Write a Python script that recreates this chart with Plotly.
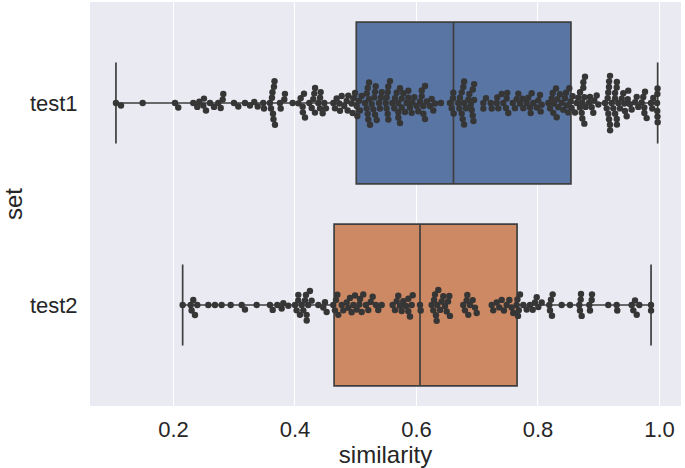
import numpy as np
import plotly.graph_objects as go

categories = ["test1", "test2"]

test1_similarity = [
    0.1053, 0.1136, 0.1493, 0.2025, 0.2079, 0.2326, 0.2392, 0.2425, 0.2491, 0.2502,
    0.2535, 0.2601, 0.2667, 0.2737, 0.2777, 0.2810, 0.2820, 0.2996, 0.3067, 0.3177,
    0.3259, 0.3330, 0.3386, 0.3478, 0.3490, 0.3588, 0.3605, 0.3621, 0.3630, 0.3638,
    0.3646, 0.3654, 0.3663, 0.3671, 0.3753, 0.3765, 0.3824, 0.3835,
    0.3962, 0.4054, 0.4094, 0.4127, 0.4130, 0.4148, 0.4165, 0.4235, 0.4275, 0.4301,
    0.4318, 0.4329, 0.4331, 0.4384, 0.4412, 0.4413, 0.4423, 0.4456, 0.4482, 0.4510,
    0.4631, 0.4658, 0.4686, 0.4729, 0.4741, 0.4769, 0.4811, 0.4851, 0.4867, 0.4877,
    0.4933, 0.4949, 0.4960, 0.4988, 0.5016, 0.5026,
    0.5054, 0.5070, 0.5098, 0.5152, 0.5180, 0.5181, 0.5197, 0.5198, 0.5207, 0.5218,
    0.5219, 0.5235, 0.5263, 0.5289, 0.5306, 0.5317, 0.5318, 0.5329, 0.5345, 0.5383,
    0.5399, 0.5416, 0.5427, 0.5493, 0.5509, 0.5510, 0.5526, 0.5527, 0.5536, 0.5537,
    0.5564, 0.5602, 0.5635, 0.5646, 0.5674, 0.5700, 0.5701, 0.5702, 0.5728, 0.5729,
    0.5756, 0.5757, 0.5783, 0.5811, 0.5839, 0.5865, 0.5866, 0.5893, 0.5921, 0.5931,
    0.5964, 0.6003, 0.6030, 0.6058, 0.6086, 0.6087, 0.6112, 0.6113, 0.6140, 0.6141,
    0.6168, 0.6222, 0.6250, 0.6277, 0.6305, 0.6403, 0.6551, 0.6579, 0.6601, 0.6606,
    0.6612,
    0.6688, 0.6706, 0.6716, 0.6744, 0.6745, 0.6771, 0.6782, 0.6761, 0.6783, 0.6784,
    0.6815, 0.6853, 0.6870, 0.6893, 0.6909, 0.6926, 0.6927, 0.6937, 0.6948, 0.6949,
    0.7100, 0.7101, 0.7144, 0.7222, 0.7238, 0.7320, 0.7330, 0.7347, 0.7403, 0.7429,
    0.7473, 0.7485, 0.7494, 0.7511, 0.7584, 0.7621, 0.7650, 0.7676, 0.7704, 0.7748,
    0.7758, 0.7814, 0.7840, 0.7868, 0.7880, 0.7896, 0.7923, 0.7979, 0.8004, 0.8033,
    0.8044, 0.8061, 0.8170, 0.8198, 0.8226, 0.8242, 0.8252, 0.8264, 0.8297, 0.8308,
    0.8318, 0.8334, 0.8362, 0.8390, 0.8416, 0.8444, 0.8461, 0.8472, 0.8498, 0.8515,
    0.8538, 0.8554, 0.8571,
    0.8609, 0.8637, 0.8663, 0.8691, 0.8692, 0.8719, 0.8729, 0.8746, 0.8747, 0.8762,
    0.8730, 0.8763, 0.8774, 0.8785, 0.8840, 0.8856, 0.8884, 0.8910, 0.8927, 0.8966,
    0.8993, 0.9103, 0.9131, 0.9147, 0.9157, 0.9169, 0.9170, 0.9185, 0.9158, 0.9171,
    0.9186, 0.9187, 0.9213, 0.9240, 0.9268, 0.9269, 0.9296, 0.9297, 0.9270, 0.9298,
    0.9299, 0.9322, 0.9350, 0.9378, 0.9404, 0.9421, 0.9432, 0.9460, 0.9477, 0.9486,
    0.9514, 0.9542, 0.9600, 0.9625, 0.9651, 0.9707, 0.9733, 0.9750, 0.9751, 0.9762,
    0.9789, 0.9860, 0.9881, 0.9898, 0.9960, 0.9963, 0.9965, 0.9967, 0.9968, 0.9970,
]

test2_similarity = [
    0.2151, 0.2283, 0.2299, 0.2326, 0.2354, 0.2392, 0.2573, 0.2683, 0.2793, 0.2942,
    0.3123, 0.3177, 0.3369, 0.3588, 0.3633, 0.3709, 0.3781, 0.3808, 0.3890,
    0.4000, 0.4027, 0.4054, 0.4055, 0.4082, 0.4110, 0.4137, 0.4165, 0.4181, 0.4192,
    0.4193, 0.4218, 0.4246, 0.4274, 0.4384, 0.4466, 0.4494, 0.4521,
    0.4630, 0.4658, 0.4675, 0.4697, 0.4713, 0.4769, 0.4795, 0.4851, 0.4877, 0.4905,
    0.4933, 0.4960, 0.4988, 0.5016, 0.5059, 0.5070, 0.5098, 0.5124, 0.5169, 0.5207,
    0.5246, 0.5279, 0.5333, 0.5371, 0.5427, 0.5608, 0.5646, 0.5674, 0.5700, 0.5728,
    0.5756, 0.5783, 0.5827, 0.5865, 0.5866, 0.5893, 0.5921, 0.5938,
    0.6058, 0.6069,
    0.6250, 0.6277, 0.6290, 0.6305, 0.6321, 0.6332, 0.6343, 0.6359, 0.6388, 0.6415,
    0.6441, 0.6469, 0.6497, 0.6520, 0.6540, 0.6551,
    0.6770, 0.6798, 0.6826, 0.6837, 0.6853, 0.6881, 0.6925, 0.6963, 0.6991,
    0.7238, 0.7264, 0.7320, 0.7363, 0.7402, 0.7440, 0.7485, 0.7528, 0.7567, 0.7593,
    0.7649, 0.7662, 0.7671, 0.7684,
    0.7704, 0.7758, 0.7814, 0.7868, 0.7913, 0.7951, 0.7979, 0.8005,
    0.8061, 0.8186, 0.8198, 0.8214, 0.8230, 0.8242, 0.8390, 0.8527, 0.8680, 0.8691,
    0.8703, 0.8708, 0.8719, 0.8845, 0.8856, 0.8884, 0.8889, 0.9157, 0.9295, 0.9305,
    0.9542, 0.9569, 0.9597, 0.9625, 0.9668, 0.9860, 0.9861,
]

x_tick_vals = [0.2, 0.4, 0.6, 0.8, 1.0]
x_tick_labels = ["0.2", "0.4", "0.6", "0.8", "1.0"]

# ---- layout / style constants ----
W, H = 685, 468
MARGIN = dict(l=90, r=4, t=2, b=62)
X_RANGE = [0.0626, 1.0354]
Y_RANGE = [1.5, -0.5]
BOX_COLORS = ["#5975A4", "#CC8963"]
LINE_COLOR = "#3f3f3f"
POINT_COLOR = "#363636"
DOT_SIZE = 6.4
DOT_SPACING = 5.6
FONT = "Liberation Sans, Arial, sans-serif"
TEXT_COLOR = "#262626"

plot_w = W - MARGIN["l"] - MARGIN["r"]
plot_h = H - MARGIN["t"] - MARGIN["b"]
px_per_x = plot_w / (X_RANGE[1] - X_RANGE[0])
px_per_y = plot_h / abs(Y_RANGE[0] - Y_RANGE[1])


def box_stats(vals):
    a = np.sort(np.asarray(vals, dtype=float))
    q1, med, q3 = np.percentile(a, [25, 50, 75])
    iqr = q3 - q1
    lo = a[a >= q1 - 1.5 * iqr].min()
    hi = a[a <= q3 + 1.5 * iqr].max()
    return q1, med, q3, lo, hi


def swarm_offsets(vals, d):
    """Beeswarm placement (seaborn-like) in pixel space; returns offsets in px."""
    v = np.asarray(vals, dtype=float)
    xs = v * px_per_x
    order = np.argsort(v, kind="mergesort")
    placed = []
    offs = np.zeros(len(v))
    for i in order:
        x = xs[i]
        neigh = [(px, py) for (px, py) in placed if abs(px - x) < d]
        cands = [0.0]
        for px, py in neigh:
            dy = np.sqrt(max(d * d - (px - x) ** 2, 0.0))
            cands.append(py + dy)
            cands.append(py - dy)
        cands = sorted(cands, key=lambda c: abs(c))
        chosen = cands[-1]
        for c in cands:
            ok = True
            for px, py in neigh:
                if (px - x) ** 2 + (py - c) ** 2 < d * d - 1e-6:
                    ok = False
                    break
            if ok:
                chosen = c
                break
        placed.append((x, chosen))
        offs[i] = chosen
    return offs


series = [test1_similarity, test2_similarity]

fig = go.Figure()

for k, (cat, vals) in enumerate(zip(categories, series)):
    q1, med, q3, lo, hi = box_stats(vals)
    fig.add_trace(go.Box(
        y=[k], q1=[q1], median=[med], q3=[q3], lowerfence=[lo], upperfence=[hi],
        orientation="h", width=0.8, whiskerwidth=0.5,
        fillcolor=BOX_COLORS[k], line=dict(color=LINE_COLOR, width=1.7),
        boxpoints=False, hoverinfo="skip", showlegend=False, name=cat,
    ))

for k, (cat, vals) in enumerate(zip(categories, series)):
    offs = swarm_offsets(vals, DOT_SPACING)
    fig.add_trace(go.Scatter(
        x=vals, y=k + offs / px_per_y, mode="markers",
        marker=dict(size=DOT_SIZE, color=POINT_COLOR, line=dict(width=0)),
        showlegend=False, name=cat,
    ))

fig.update_layout(
    width=W, height=H, margin=MARGIN,
    paper_bgcolor="white", plot_bgcolor="#EAEAF2",
    font=dict(family=FONT, color=TEXT_COLOR, size=22),
)
fig.update_xaxes(
    range=X_RANGE, tickvals=x_tick_vals, ticktext=x_tick_labels,
    showgrid=True, gridcolor="white", gridwidth=1.2, zeroline=False,
    ticks="outside", ticklen=4, tickcolor="rgba(0,0,0,0)",
    tickfont=dict(size=22), title=dict(text="similarity", font=dict(size=24), standoff=7),
    automargin=False, showline=False,
)
fig.update_yaxes(
    range=Y_RANGE, tickvals=[0, 1], ticktext=categories,
    showgrid=False, zeroline=False,
    ticks="outside", ticklen=7, tickcolor="rgba(0,0,0,0)",
    tickfont=dict(size=22), title=dict(text="set", font=dict(size=24), standoff=0),
    automargin=False, showline=False,
)

fig.write_html(
    "out.html",
    config={"displayModeBar": False},
    post_script="document.body.style.margin='0';document.body.style.padding='0';",
)
